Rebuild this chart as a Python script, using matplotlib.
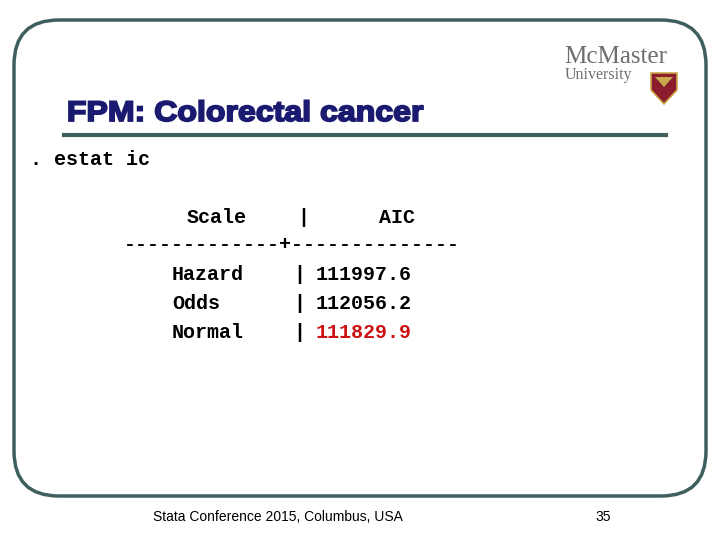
import matplotlib
matplotlib.use("Agg")
import matplotlib.pyplot as plt
from matplotlib.patches import FancyBboxPatch, Polygon, PathPatch
from matplotlib.textpath import TextPath
from matplotlib.font_manager import FontProperties
from matplotlib.transforms import Affine2D

scales = ["Hazard", "Odds", "Normal"]
aic = ["111997.6", "112056.2", "111829.9"]
aic_colors = ["black", "black", "#cc1111"]

fig = plt.figure(figsize=(7.2, 5.4), dpi=100)
ax = fig.add_axes([0, 0, 1, 1])
ax.set_xlim(0, 720); ax.set_ylim(540, 0); ax.axis("off")

ax.add_patch(FancyBboxPatch((14, 20), 692, 476, boxstyle="round,pad=0,rounding_size=45",
                            fill=False, ec="#3f5f5f", lw=2.5))
ax.plot([64, 666], [135, 135], color="#3f5f5f", lw=3)

# title, stretched to match the slide's width
tp = TextPath((0, 0), "FPM: Colorectal cancer",
              prop=FontProperties(family="Liberation Sans", weight="bold"), size=1)
ext = tp.get_extents()
sx = 354 / ext.width
sy = 20.5 / 0.72
tp = tp.transformed(Affine2D().translate(-ext.x0, 0).scale(sx, -sy).translate(69, 121))
ax.add_patch(PathPatch(tp, fc="#1a1a70", ec="#1a1a70", lw=1.3))

mono = dict(family="Liberation Mono", fontsize=14.4, va="baseline", weight="bold")
ax.text(30, 165, ". estat ic", **mono)
ax.text(187, 223, "Scale", **mono)
ax.text(297, 223, "|", **mono)
ax.text(379, 223, "AIC", **mono)
ax.text(124, 250, "-------------+--------------", **mono)
for i, (s, a, c) in enumerate(zip(scales, aic, aic_colors)):
    y = 280 + i * 29
    ax.text(172, y, s, **mono)
    ax.text(293, y, "|", **mono)
    ax.text(316, y, a, color=c, **mono)

ax.text(278, 521, "Stata Conference 2015, Columbus, USA", fontsize=10,
        family="Liberation Sans", ha="center", va="baseline")
ax.text(603, 521, "35", fontsize=10, family="Liberation Sans", ha="center", va="baseline")

# logo
ax.text(564, 63, "McMaster", fontsize=18, family="Liberation Serif", color="#6e6e6e", va="baseline")
ax.text(565, 79, "University", fontsize=11.5, family="Liberation Serif", color="#6e6e6e", va="baseline")
ax.add_patch(Polygon([[651, 73], [677, 73], [677, 90], [664, 104], [651, 90]],
                     closed=True, fc="#8a1c2b", ec="#c9a94a", lw=1.2))
ax.add_patch(Polygon([[655, 77], [673, 77], [664, 87]], closed=True, fc="#c9a94a"))

fig.savefig("out.png", dpi=100)
